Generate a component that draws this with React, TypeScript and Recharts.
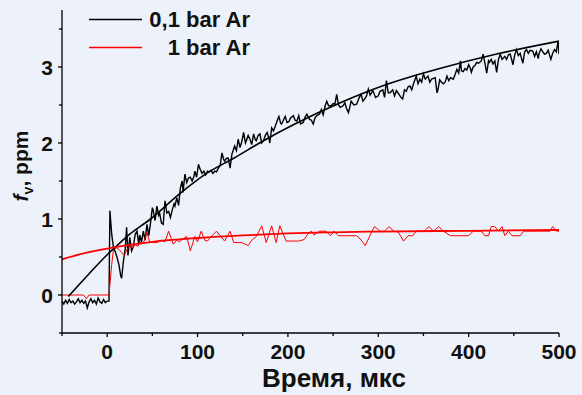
import { LineChart, Line, XAxis, YAxis, Legend, Label } from "recharts";

// 0,1 bar Ar — raw signal [time µs, fv ppm]
const ar01Raw: [number, number][] = [
  [-50, -0.08], [-48, -0.12], [-46, -0.07], [-44, -0.11], [-42, -0.06], [-40, -0.1], [-38, -0.08], [-36, -0.12],
  [-34, -0.09], [-32, -0.05], [-30, -0.1], [-28, -0.07], [-26, -0.11], [-24, -0.08], [-22, -0.17], [-20, -0.09],
  [-18, -0.05], [-16, -0.1], [-14, -0.07], [-12, -0.12], [-10, -0.04], [-8, -0.09], [-6, -0.11], [-4, -0.06],
  [-2, -0.1], [0, -0.08], [2, -0.08], [3, 1.11], [5, 0.8], [7, 0.62], [9, 0.57], [11, 0.49], [13, 0.4], [15, 0.25],
  [16, 0.22], [18, 0.45], [20, 0.61], [21.5, 0.89], [23, 0.52], [25, 0.76], [27, 0.58], [29, 0.64], [31, 0.8],
  [33, 0.84], [35, 0.66], [36, 0.79], [38, 0.7], [40, 0.84], [42, 0.72], [44, 0.93], [46, 0.78], [48, 0.95],
  [50, 1.15], [51, 1.11], [53, 0.98], [55, 1.17], [57, 1.05], [58, 1.08], [60, 0.95], [62, 0.93], [64, 1.24],
  [66, 1.08], [68, 1.1], [70, 1.02], [72, 1.12], [74, 1.2], [75, 1.17], [77, 1.28], [79, 1.18], [81, 1.41],
  [83, 1.5], [84, 1.35], [86, 1.59], [88, 1.48], [90, 1.54], [92, 1.55], [94, 1.5], [96, 1.56], [97, 1.63],
  [99, 1.55], [101, 1.72], [103, 1.65], [105, 1.6], [107, 1.63], [109, 1.58], [111, 1.63], [113, 1.62],
  [115, 1.64], [117, 1.6], [119, 1.63], [121, 1.62], [123, 1.67], [125, 1.7], [127, 1.87], [129, 1.78],
  [130, 1.76], [132, 1.8], [134, 1.8], [136, 1.67], [138, 1.85], [141, 1.96], [143, 1.9], [145, 2.05],
  [147, 1.94], [149, 2.02], [151, 2.14], [153, 2.0], [154, 2.03], [156, 2.1], [158, 2.05], [160, 1.98],
  [162, 2.12], [164, 2.04], [165, 2.03], [167, 2.1], [169, 2.12], [171, 2.0], [173, 2.03], [175, 2.1],
  [177, 2.14], [179, 2.06], [180, 2.0], [182, 2.2], [184, 2.16], [186, 2.22], [188, 2.29], [190, 2.35],
  [192, 2.26], [193, 2.25], [195, 2.3], [197, 2.35], [199, 2.27], [201, 2.28], [203, 2.33], [206, 2.36],
  [208, 2.3], [210, 2.29], [212, 2.36], [214, 2.25], [217, 2.27], [219, 2.34], [221, 2.38], [224, 2.31],
  [226, 2.3], [228, 2.25], [230, 2.33], [232, 2.36], [235, 2.38], [237, 2.44], [239, 2.37], [241, 2.48],
  [243, 2.55], [245, 2.49], [248, 2.49], [250, 2.52], [252, 2.51], [254, 2.64], [256, 2.5], [258, 2.47],
  [261, 2.49], [263, 2.53], [265, 2.45], [267, 2.4], [270, 2.55], [273, 2.5], [276, 2.51], [279, 2.6],
  [281, 2.64], [283, 2.55], [285, 2.58], [287, 2.62], [289, 2.71], [291, 2.63], [294, 2.69], [297, 2.6],
  [300, 2.62], [302, 2.68], [305, 2.7], [307, 2.6], [309, 2.82], [311, 2.66], [313, 2.66], [316, 2.7],
  [318, 2.62], [320, 2.69], [323, 2.64], [325, 2.6], [327, 2.58], [329, 2.7], [331, 2.68], [333, 2.74],
  [335, 2.75], [337, 2.7], [339, 2.78], [342, 2.88], [344, 2.78], [346, 2.84], [348, 2.8], [350, 2.91],
  [352, 2.84], [355, 2.88], [357, 2.8], [359, 2.84], [361, 2.85], [363, 2.86], [365, 2.66], [366, 2.7],
  [368, 2.83], [370, 2.8], [372, 2.78], [374, 2.8], [376, 2.88], [378, 2.82], [380, 2.86], [383, 2.84],
  [385, 2.9], [387, 2.97], [389, 2.92], [391, 3.08], [392, 2.95], [394, 2.94], [396, 2.98], [398, 2.96],
  [400, 3.03], [402, 2.98], [403, 2.93], [405, 3.0], [407, 3.02], [409, 3.06], [411, 3.05], [414, 3.08],
  [416, 3.17], [418, 3.05], [420, 2.92], [422, 3.08], [423, 3.06], [425, 3.1], [427, 3.04], [429, 3.08],
  [431, 2.93], [433, 3.1], [435, 3.17], [437, 3.1], [440, 3.14], [442, 3.1], [444, 3.16], [446, 3.17],
  [448, 3.08], [449, 3.03], [451, 3.16], [453, 3.23], [455, 3.15], [457, 3.18], [460, 3.05], [462, 3.2],
  [464, 3.23], [466, 3.18], [468, 3.22], [471, 3.21], [473, 3.14], [475, 3.2], [477, 3.11], [478, 3.18],
  [480, 3.24], [482, 3.2], [484, 3.17], [486, 3.18], [488, 3.22], [491, 3.1], [493, 3.18], [495, 3.23],
  [497, 3.2], [499, 3.34], [500, 3.17],
];

// 1 bar Ar — raw signal
const ar1Raw: [number, number][] = [
  [-50, 0], [-45, 0], [-40, 0], [-35, 0], [-30, 0], [-26, 0], [-23, -0.05], [-20, 0], [-15, 0], [-10, 0],
  [-5, 0], [0, 0], [2, 0], [5, 0.4], [7, 0.6], [10, 0.62], [13, 0.6], [16, 0.56], [19, 0.52], [22, 0.6],
  [25, 0.64], [28, 0.62], [31, 0.66], [34, 0.64], [37, 0.7], [40, 0.68], [44, 0.82], [47, 0.7], [50, 0.69],
  [55, 0.69], [60, 0.72], [64, 0.7], [68, 0.84], [73, 0.67], [77, 0.72], [80, 0.7], [84, 0.74], [88, 0.77],
  [92, 0.58], [97, 0.77], [100, 0.7], [104, 0.84], [108, 0.72], [111, 0.71], [116, 0.78], [121, 0.84],
  [125, 0.78], [130, 0.71], [136, 0.84], [140, 0.69], [145, 0.69], [149, 0.69], [156, 0.65], [160, 0.72],
  [165, 0.77], [171, 0.91], [176, 0.69], [182, 0.91], [187, 0.69], [191, 0.91], [198, 0.71], [205, 0.71],
  [212, 0.71], [218, 0.73], [222, 0.8], [226, 0.84], [229, 0.79], [235, 0.84], [242, 0.84], [247, 0.78],
  [251, 0.84], [256, 0.78], [265, 0.78], [276, 0.78], [280, 0.74], [285.5, 0.65], [290, 0.76], [293, 0.84],
  [296, 0.9], [302, 0.84], [307, 0.84], [312, 0.9], [317, 0.84], [322, 0.83], [328, 0.71], [333, 0.78],
  [338, 0.78], [342, 0.84], [351, 0.84], [356, 0.9], [361, 0.84], [367, 0.9], [372, 0.84], [380, 0.78],
  [390, 0.78], [400, 0.78], [405, 0.84], [414, 0.84], [418, 0.78], [422, 0.78], [425, 0.9], [429, 0.9],
  [433, 0.84], [437, 0.9], [440, 0.78], [444, 0.84], [448, 0.78], [457, 0.78], [461, 0.84], [470, 0.84],
  [480, 0.84], [490, 0.84], [493, 0.9], [497, 0.84], [500, 0.84],
];

// fitted curves
const ar01Fit: [number, number][] = [
  [-43, -0.02], [-20, 0.28], [0, 0.53], [9, 0.63], [25, 0.8], [48, 1.0], [80, 1.33], [110, 1.6], [140, 1.8],
  [173, 2.03], [206, 2.24], [258, 2.53], [309, 2.77], [368, 2.98], [431, 3.17], [500, 3.34],
];
const ar1Fit: [number, number][] = [
  [-50, 0.47], [-25, 0.55], [0, 0.61], [25, 0.66], [50, 0.7], [100, 0.75], [150, 0.785], [200, 0.81],
  [250, 0.825], [300, 0.835], [400, 0.845], [500, 0.855],
];

const xTicks = [-50, 0, 50, 100, 150, 200, 250, 300, 350, 400, 450, 500];
const yTicks = [-0.5, 0, 0.5, 1, 1.5, 2, 2.5, 3, 3.5];

const toRows = (pts: [number, number][]) => pts.map(([t, v]) => ({ t, v }));

const FONT = "'Liberation Sans', Arial, sans-serif";

function XTick({ x, y, payload }: any) {
  const major = payload.value % 100 === 0;
  return (
    <g>
      <line x1={x} y1={y} x2={x} y2={y + (major ? 4 : 3)} stroke="#000" strokeWidth={1.3} />
      {major && (
        <text x={x} y={y + 26} textAnchor="middle" fontFamily={FONT} fontWeight="bold" fontSize={21} fill="#111">
          {payload.value}
        </text>
      )}
    </g>
  );
}

function YTick({ x, y, payload }: any) {
  const major = Number.isInteger(payload.value);
  return (
    <g>
      <line x1={x} y1={y} x2={x - (major ? 4 : 3)} y2={y} stroke="#000" strokeWidth={1.3} />
      {major && (
        <text x={x - 9} y={y + 7.5} textAnchor="end" fontFamily={FONT} fontWeight="bold" fontSize={21} fill="#111">
          {payload.value}
        </text>
      )}
    </g>
  );
}

function renderLegend() {
  return (
    <svg width={270} height={62}>
      <line x1={89} y1={19.5} x2={142} y2={19.5} stroke="#000" strokeWidth={1.5} />
      <text x={250} y={27} textAnchor="end" fontFamily={FONT} fontWeight="bold" fontSize={22} fill="#111">
        0,1 bar Ar
      </text>
      <line x1={89} y1={47.5} x2={142} y2={47.5} stroke="#ff0000" strokeWidth={1.5} />
      <text x={250} y={55} textAnchor="end" fontFamily={FONT} fontWeight="bold" fontSize={22} fill="#111">
        1 bar Ar
      </text>
    </svg>
  );
}

export default function App() {
  return (
    <div style={{ position: "absolute", left: 0, top: 0, width: 582, height: 395, background: "#edf1f9" }}>
      <LineChart width={582} height={395} margin={{ top: 10, right: 23, bottom: 0, left: 0 }}>
        <XAxis
          dataKey="t"
          type="number"
          domain={[-50, 500]}
          ticks={xTicks}
          allowDataOverflow
          height={62}
          stroke="#000"
          strokeWidth={1.3}
          tickSize={0}
          tickMargin={0}
          tickLine={false}
          tick={<XTick />}
          interval={0}
        >
          <Label
            content={() => (
              <text x={334} y={387} textAnchor="middle" fontFamily={FONT} fontWeight="bold" fontSize={26} fill="#111">
                Время, мкс
              </text>
            )}
          />
        </XAxis>
        <YAxis
          type="number"
          domain={[-0.5, 3.75]}
          ticks={yTicks}
          allowDataOverflow
          width={62}
          stroke="#000"
          strokeWidth={1.3}
          tickSize={0}
          tickMargin={0}
          tickLine={false}
          tick={<YTick />}
          interval={0}
        >
          <Label
            content={() => (
              <text
                x={28}
                y={166}
                transform="rotate(-90, 28, 166)"
                textAnchor="middle"
                fontFamily={FONT}
                fontWeight="bold"
                fontSize={21}
                fill="#111"
              >
                <tspan fontStyle="italic">f</tspan>
                <tspan fontSize={14} dy={5}>v</tspan>
                <tspan dy={-5}>, ppm</tspan>
              </text>
            )}
          />
        </YAxis>
        <Legend
          layout="horizontal"
          verticalAlign="middle"
          content={renderLegend}
          wrapperStyle={{ position: "absolute", left: 0, top: 0, width: 270, height: 62 }}
        />
        <Line
          data={toRows(ar01Raw)}
          dataKey="v"
          name="0,1 bar Ar"
          type="linear"
          stroke="#000"
          strokeWidth={1.4}
          dot={false}
          isAnimationActive={false}
        />
        <Line
          data={toRows(ar1Raw)}
          dataKey="v"
          name="1 bar Ar"
          type="linear"
          stroke="#ff0000"
          strokeWidth={1}
          dot={false}
          isAnimationActive={false}
        />
        <Line
          data={toRows(ar01Fit)}
          dataKey="v"
          type="monotone"
          stroke="#000"
          strokeWidth={1.6}
          dot={false}
          legendType="none"
          isAnimationActive={false}
        />
        <Line
          data={toRows(ar1Fit)}
          dataKey="v"
          type="monotone"
          stroke="#ff0000"
          strokeWidth={1.8}
          dot={false}
          legendType="none"
          isAnimationActive={false}
        />
      </LineChart>
    </div>
  );
}
